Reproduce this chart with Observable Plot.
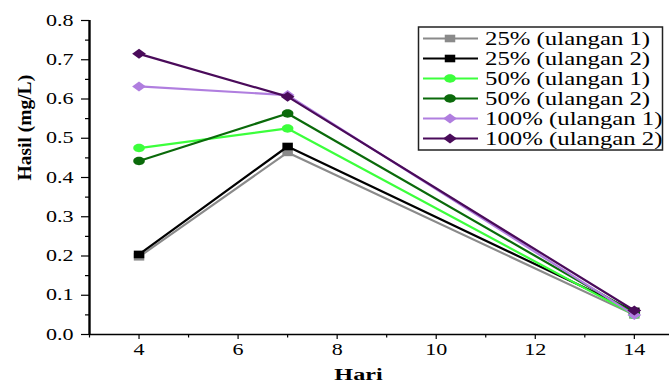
<!DOCTYPE html>
<html>
<head>
<meta charset="utf-8">
<script src="https://cdn.jsdelivr.net/npm/d3@7"></script>
<script src="https://cdn.jsdelivr.net/npm/@observablehq/plot@0.6"></script>
<style>
  body { margin: 0; background: #fff; }
  #chart { position: relative; width: 669px; height: 387px; overflow: hidden; }
  #chart svg { position: absolute; left: 0; top: 0; }
</style>
</head>
<body>
<div id="chart"></div>
<script>
// ---- data ----
const days = [4, 7, 14];
const seriesNames = ["25% (ulangan 1)", "25% (ulangan 2)", "50% (ulangan 1)", "50% (ulangan 2)", "100% (ulangan 1)", "100% (ulangan 2)"];
const h25u1 = [0.198, 0.464, 0.050];
const h25u2 = [0.204, 0.479, 0.059];
const h50u1 = [0.475, 0.525, 0.050];
const h50u2 = [0.442, 0.563, 0.055];
const h100u1 = [0.632, 0.610, 0.050];
const h100u2 = [0.715, 0.606, 0.061];
const xTicks = [4, 6, 8, 10, 12, 14];
const xMinorTicks = [3, 5, 7, 9, 11, 13];
const yTicks = [0, 0.1, 0.2, 0.3, 0.4, 0.5, 0.6, 0.7, 0.8];
const yMinorTicks = [0.05, 0.15, 0.25, 0.35, 0.45, 0.55, 0.65, 0.75];
const xLabel = "Hari";
const yLabel = "Hasil (mg/L)";

// ---- styling ----
const K = 1.38; // horizontal stretch seen in the reference
const wideSquare = {draw(ctx, size) { const r = Math.sqrt(size / Math.PI); ctx.moveTo(-K * r, -r); ctx.lineTo(K * r, -r); ctx.lineTo(K * r, r); ctx.lineTo(-K * r, r); ctx.closePath(); }};
const wideCircle = {draw(ctx, size) {
  const r = Math.sqrt(size / Math.PI), rx = K * r, ry = r, c = 0.5523;
  ctx.moveTo(rx, 0);
  ctx.bezierCurveTo(rx, c * ry, c * rx, ry, 0, ry);
  ctx.bezierCurveTo(-c * rx, ry, -rx, c * ry, -rx, 0);
  ctx.bezierCurveTo(-rx, -c * ry, -c * rx, -ry, 0, -ry);
  ctx.bezierCurveTo(c * rx, -ry, rx, -c * ry, rx, 0);
  ctx.closePath();
}};
const wideDiamond = {draw(ctx, size) { const r = Math.sqrt(size / Math.PI); ctx.moveTo(-K * r, 0); ctx.lineTo(0, -r); ctx.lineTo(K * r, 0); ctx.lineTo(0, r); ctx.closePath(); }};

const values = [h25u1, h25u2, h50u1, h50u2, h100u1, h100u2];
const colors = ["#8a8a8a", "#000000", "#3cff3c", "#0a6a0a", "#b07edf", "#4a0b5a"];
const symbols = [wideSquare, wideSquare, wideCircle, wideCircle, wideDiamond, wideDiamond];
const radii = [3.8, 3.8, 4.2, 4.2, 5, 5];

const rows = [];
seriesNames.forEach((name, s) => days.forEach((d, i) => rows.push({series: name, hari: d, hasil: values[s][i]})));

const seriesMarks = [];
seriesNames.forEach((name, s) => {
  const data = rows.filter(r => r.series === name);
  seriesMarks.push(Plot.line(data, {x: "hari", y: "hasil", stroke: colors[s], strokeWidth: 2.2}));
  seriesMarks.push(Plot.dot(data, {x: "hari", y: "hasil", symbol: symbols[s], r: radii[s], fill: colors[s], stroke: "none"}));
});

const plot = Plot.plot({
  width: 669,
  height: 387,
  marginLeft: 89,
  marginRight: 0,
  marginTop: 20,
  marginBottom: 53,
  style: {fontFamily: "'Liberation Serif', 'Times New Roman', serif", background: "transparent", color: "#000"},
  x: {domain: [3, 14.71], label: null},
  y: {domain: [0, 0.8], label: null},
  marks: [
    Plot.axisX(xTicks, {tickSize: 5, tickPadding: 4, fontSize: 16, label: null, strokeWidth: 1.2}),
    Plot.axisX(xMinorTicks, {tickSize: 3.5, tickFormat: () => "", label: null, strokeWidth: 1.2}),
    Plot.axisY(yTicks, {tickSize: 8, tickPadding: 8, fontSize: 16, tickFormat: d3.format(".1f"), label: null, strokeWidth: 1.2}),
    Plot.axisY(yMinorTicks, {tickSize: 4, tickFormat: () => "", label: null, strokeWidth: 1.2}),
    Plot.ruleX([3], {stroke: "#000", strokeWidth: 2.4}),
    Plot.ruleY([0], {stroke: "#000", strokeWidth: 1.6}),
    ...seriesMarks,
    Plot.text([xLabel], {frameAnchor: "bottom", dx: -21, dy: 45, fontSize: 17.5, fontWeight: "bold"}),
    Plot.text([yLabel], {frameAnchor: "left", rotate: -90, dx: -65, dy: 3, fontSize: 19.5, fontWeight: "bold"})
  ]
});

// stretch horizontal text like the reference
d3.select(plot).selectAll("text").each(function() {
  const el = this;
  let t = el.getAttribute("transform");
  if (t && t.includes("rotate")) return;
  if (!t) {
    const x = +el.getAttribute("x") || 0, y = +el.getAttribute("y") || 0;
    el.removeAttribute("x"); el.removeAttribute("y");
    t = `translate(${x},${y})`;
  }
  el.setAttribute("transform", t + ` scale(${K},1)`);
});

document.getElementById("chart").appendChild(plot);

// ---- legend ----
const lg = d3.select("#chart").append("svg")
  .attr("width", 248).attr("height", 126)
  .style("left", "417px").style("top", "26px");
lg.append("rect").attr("x", 1.5).attr("y", 1).attr("width", 244).attr("height", 123)
  .attr("fill", "#fff").attr("stroke", "#222").attr("stroke-width", 1.5);
seriesNames.forEach((name, s) => {
  const cy = 12.5 + 20 * s;
  const g = lg.append("g");
  g.append("line").attr("x1", 6).attr("x2", 61).attr("y1", cy).attr("y2", cy)
    .attr("stroke", colors[s]).attr("stroke-width", 2.2);
  g.append("path").attr("d", d3.symbol(symbols[s], Math.PI * radii[s] * radii[s])())
    .attr("transform", `translate(33,${cy})`).attr("fill", colors[s]);
  g.append("text").text(name)
    .attr("transform", `translate(68,${cy}) scale(1.34,1)`)
    .attr("dy", "0.35em")
    .attr("font-family", "'Liberation Serif', 'Times New Roman', serif")
    .attr("font-size", 18.5).attr("fill", "#000");
});
</script>
</body>
</html>
